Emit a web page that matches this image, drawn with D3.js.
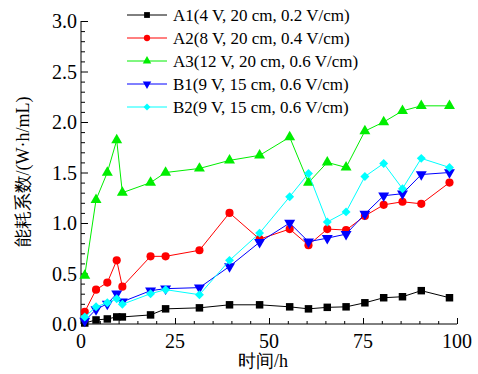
<!DOCTYPE html>
<html>
<head>
<meta charset="utf-8">
<script src="https://cdn.jsdelivr.net/npm/d3@7"></script>
<style>
  body { margin: 0; background: #fff; }
</style>
</head>
<body>
<div id="chart"></div>
<script>
// Time points (h)
const hours = [1, 4, 7, 9.5, 11, 18.5, 22.5, 31.5, 39.5, 47.5, 55.5, 60.5, 65.5, 70.5, 75.5, 80.5, 85.5, 90.5, 98];

// Energy consumption coefficient (W·h/mL)
const a1 = [0.01, 0.04, 0.05, 0.07, 0.07, 0.09, 0.15, 0.16, 0.19, 0.19, 0.17, 0.15, 0.165, 0.17, 0.21, 0.26, 0.27, 0.33, 0.26];
const a2 = [0.12, 0.34, 0.41, 0.63, 0.37, 0.67, 0.67, 0.73, 1.10, 0.84, 0.94, 0.78, 0.94, 0.93, 1.07, 1.18, 1.21, 1.19, 1.40];
const a3 = [0.48, 1.23, 1.50, 1.82, 1.30, 1.40, 1.50, 1.54, 1.62, 1.67, 1.85, 1.40, 1.60, 1.55, 1.91, 2.00, 2.11, 2.16, 2.16];
const b1 = [0.03, 0.145, 0.20, 0.30, 0.22, 0.33, 0.35, 0.36, 0.57, 0.81, 1.00, 0.815, 0.85, 0.89, 1.09, 1.27, 1.29, 1.48, 1.50];
const b2 = [0.07, 0.17, 0.21, 0.25, 0.195, 0.30, 0.34, 0.29, 0.63, 0.90, 1.26, 1.49, 1.01, 1.11, 1.46, 1.59, 1.34, 1.64, 1.55];

const seriesNames = ["A1(4 V, 20 cm, 0.2 V/cm)", "A2(8 V, 20 cm, 0.4 V/cm)", "A3(12 V, 20 cm, 0.6 V/cm)", "B1(9 V, 15 cm, 0.6 V/cm)", "B2(9 V, 15 cm, 0.6 V/cm)"];
const xTicks = [0, 25, 50, 75, 100];
const yTicks = [0, 0.5, 1.0, 1.5, 2.0, 2.5, 3.0];

const serif = '"Liberation Serif", "DejaVu Serif", serif';

const series = [
    {name: seriesNames[0], values: a1, color: "#000000", symbol: d3.symbolSquare, size: 56, rotate: 0},
    {name: seriesNames[1], values: a2, color: "#ff0000", symbol: d3.symbolCircle, size: 52, rotate: 0},
    {name: seriesNames[2], values: a3, color: "#00ee00", symbol: d3.symbolTriangle, size: 52, rotate: 0},
    {name: seriesNames[3], values: b1, color: "#0000ff", symbol: d3.symbolTriangle, size: 52, rotate: 180},
    {name: seriesNames[4], values: b2, color: "#00ffff", symbol: d3.symbolSquare, size: 40, rotate: 45}
];

const W = 478, H = 374;

const svg = d3.select("#chart")
    .append("svg")
    .attr("width", W)
    .attr("height", H)
    .attr("font-family", serif);

const x = d3.scaleLinear().domain([0, 100]).range([81, 457]);
const y = d3.scaleLinear().domain([0, 3]).range([324, 21]);

// X axis: major and minor ticks pointing inward
const xAxis = svg.append("g").attr("transform", `translate(0,${y(0)})`);
xAxis.call(d3.axisBottom(x).tickValues(d3.range(0, 101, 5)).tickSize(-3).tickFormat(""));
xAxis.call(g => g.selectAll(".tick line").filter(d => d % 25 === 0).attr("y2", -6));
xAxis.select(".domain").attr("d", `M${x(0)},0H${x(100)}`);
xAxis.selectAll("line, path").attr("stroke", "#000").attr("stroke-width", 1);

svg.append("g").selectAll("text")
    .data(xTicks)
    .enter()
    .append("text")
    .attr("x", d => x(d))
    .attr("y", y(0) + 24)
    .attr("text-anchor", "middle")
    .attr("font-family", serif)
    .attr("font-size", 20)
    .text(d => d);

// Y axis
const yAxis = svg.append("g").attr("transform", `translate(${x(0)},0)`);
yAxis.call(d3.axisLeft(y).tickValues(d3.range(0, 31).map(d => d / 10)).tickSize(-4).tickFormat(""));
yAxis.call(g => g.selectAll(".tick line").filter(d => Math.round(d * 10) % 5 === 0).attr("x2", 7));
yAxis.select(".domain").attr("d", `M0,${y(0)}V${y(3)}`);
yAxis.selectAll("line, path").attr("stroke", "#000").attr("stroke-width", 1);

svg.append("g").selectAll("text")
    .data(yTicks)
    .enter()
    .append("text")
    .attr("x", x(0) - 4)
    .attr("y", d => y(d))
    .attr("dy", "0.35em")
    .attr("text-anchor", "end")
    .attr("font-family", serif)
    .attr("font-size", 20)
    .text(d => d.toFixed(1));

// Axis titles
svg.append("text")
    .attr("x", 263)
    .attr("y", 367)
    .attr("text-anchor", "middle")
    .attr("font-family", serif)
    .attr("font-size", 18)
    .text("时间/h");

svg.append("text")
    .attr("transform", "translate(29,172) rotate(-90)")
    .attr("text-anchor", "middle")
    .attr("font-family", serif)
    .attr("font-size", 18)
    .text("能耗系数/(W·h/mL)");

// Lines and markers
const line = d3.line()
    .x((d, i) => x(hours[i]))
    .y(d => y(d));

series.forEach(s => {
    svg.append("path")
        .datum(s.values)
        .attr("fill", "none")
        .attr("stroke", s.color)
        .attr("stroke-width", 1)
        .attr("d", line);

    svg.append("g").selectAll("path")
        .data(s.values)
        .enter()
        .append("path")
        .attr("d", d3.symbol().type(s.symbol).size(s.size))
        .attr("transform", (d, i) => `translate(${x(hours[i])},${y(d)}) rotate(${s.rotate})`)
        .attr("fill", s.color);
});

// Legend
const legend = svg.append("g");
series.forEach((s, i) => {
    const ly = 15 + i * 23;
    legend.append("line")
        .attr("x1", 127).attr("x2", 167)
        .attr("y1", ly).attr("y2", ly)
        .attr("stroke", s.color)
        .attr("stroke-width", 1);
    legend.append("path")
        .attr("d", d3.symbol().type(s.symbol).size(s.size * 0.6))
        .attr("transform", `translate(147,${ly}) rotate(${s.rotate})`)
        .attr("fill", s.color);
    legend.append("text")
        .attr("x", 173)
        .attr("y", ly)
        .attr("dy", "0.35em")
        .attr("font-family", serif)
        .attr("font-size", 17)
        .text(s.name);
});
</script>
</body>
</html>
